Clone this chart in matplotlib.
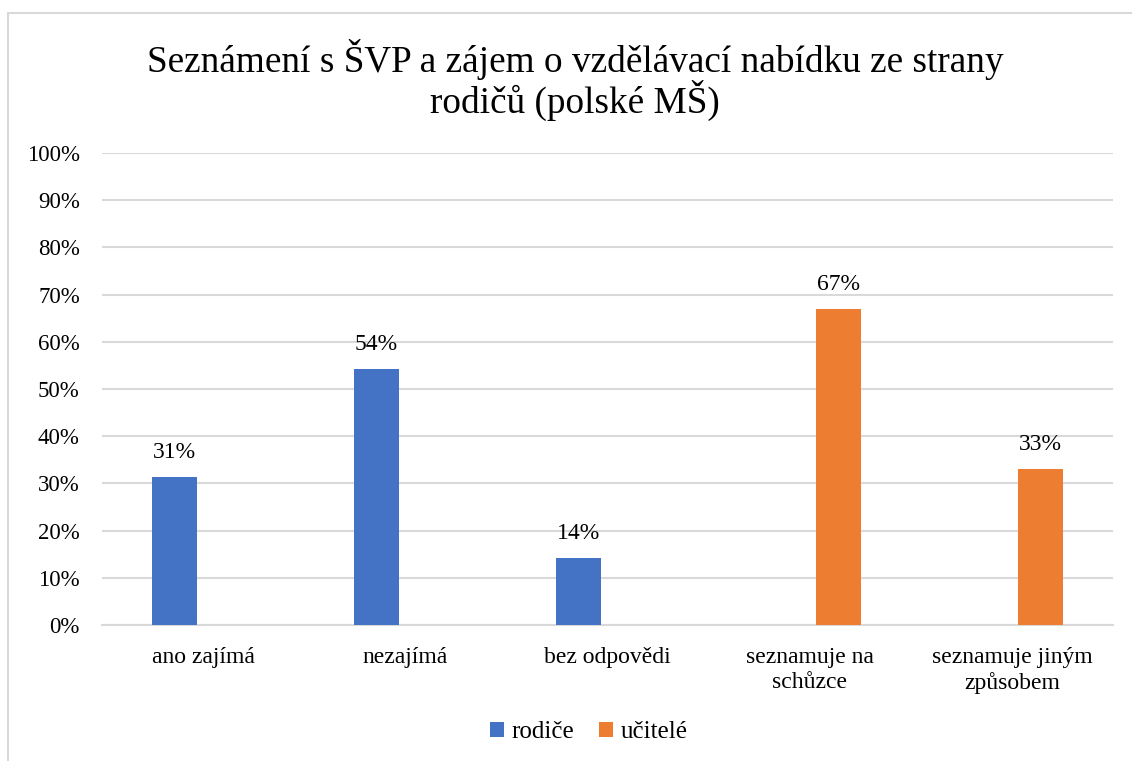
import numpy as np
import matplotlib.pyplot as plt
from matplotlib.patches import Rectangle

# data
categories = ['ano zajímá', 'nezajímá', 'bez odpovědi', 'seznamuje na\nschůzce', 'seznamuje jiným\nzpůsobem']
rodice = [31.4, 54.3, 14.3, 0, 0]
ucitele = [0, 0, 0, 66.9, 33.1]
series_names = ['rodiče', 'učitelé']
colors = ['#4472C4', '#ED7D31']

plt.rcParams['font.family'] = ['Liberation Serif', 'DejaVu Serif']

fig = plt.figure(figsize=(11.32, 7.61), dpi=100)
ax = fig.add_axes([102 / 1132, 1 - 625 / 761, 1011 / 1132, 472 / 761])

# chart border (light gray, cut by image on right/bottom)
fig.patches.append(Rectangle((8 / 1132, -0.05), 1.2, 1 - 13 / 761 + 0.05,
                             transform=fig.transFigure, fill=False,
                             edgecolor='#D9D9D9', linewidth=1.5))

x = np.arange(len(categories))
w = 0.223
off = 0.143
for vals, shift, col, name in [(rodice, -off, colors[0], series_names[0]),
                               (ucitele, off, colors[1], series_names[1])]:
    bars = ax.bar(x + shift, vals, width=w, color=col, label=name, zorder=3)
    for b, v in zip(bars, vals):
        if v > 0:
            ax.annotate(f'{v:.0f}%', (b.get_x() + b.get_width() / 2, v),
                        xytext=(0, 10), textcoords='offset points',
                        ha='center', va='bottom', fontsize=17)

ax.set_xlim(-0.5, len(categories) - 0.5)
ax.set_ylim(0, 100)
ax.set_yticks(range(0, 101, 10))
ax.set_yticklabels([f'{t}%' for t in range(0, 101, 10)], fontsize=16.5)
ax.set_xticks(x)
ax.set_xticklabels(categories, fontsize=17, linespacing=1.25)
ax.tick_params(axis='both', length=0)
ax.tick_params(axis='y', pad=16)
ax.tick_params(axis='x', pad=16)
ax.yaxis.grid(True, color='#D9D9D9', linewidth=1.5, zorder=0)
for s in ['top', 'right', 'left']:
    ax.spines[s].set_visible(False)
ax.spines['bottom'].set_color('#D9D9D9')
ax.spines['bottom'].set_linewidth(1.5)

fig.text(0.508, 1 - 80 / 761, 'Seznámení s ŠVP a zájem o vzdělávací nabídku ze strany\nrodičů (polské MŠ)',
         ha='center', va='center', fontsize=26.8, linespacing=1.02)

fig.legend(loc='center', bbox_to_anchor=(0.52, 1 - 732 / 761), ncol=2, frameon=False,
           fontsize=18, handlelength=0.55, handleheight=0.55, handletextpad=0.3,
           columnspacing=1.0)

fig.savefig('out.png', dpi=100)
